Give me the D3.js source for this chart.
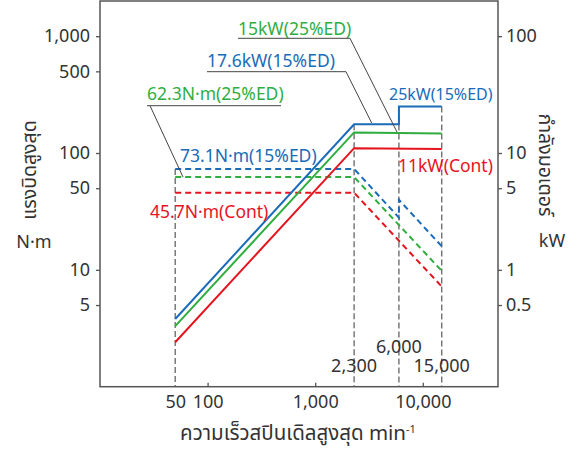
<!DOCTYPE html>
<html>
<head>
<meta charset="utf-8">
<script src="https://cdn.jsdelivr.net/npm/d3@7"></script>
<style>
  body { margin: 0; background: #fff; }
  svg text { font-family: "Noto Sans Thai", "Noto Sans", sans-serif; }
</style>
</head>
<body>
<div id="chart"></div>
<script>
// speeds (min-1) and values
var speeds15 = [50, 2300, 6000, 6000, 15000];
var speeds3 = [50, 2300, 15000];

var torque15ED = [73.1, 73.1, 28.0, 39.8, 15.9];
var torque25ED = [62.3, 62.3, 9.8];
var torqueCont = [45.7, 45.7, 7.2];

var power15ED = [0.38, 17.6, 17.6, 25, 25];
var power25ED = [0.33, 15, 14.7];
var powerCont = [0.24, 11, 10.8];

var xTicks = [50, 100, 1000, 10000];
var xTickLabels = ["50", "100", "1,000", "10,000"];
var yLeftTicks = [5, 10, 50, 100, 500, 1000];
var yLeftLabels = ["5", "10", "50", "100", "500", "1,000"];
var yRightTicks = [0.5, 1, 5, 10, 100];
var yRightLabels = ["0.5", "1", "5", "10", "100"];

var guideSpeeds = [50, 2300, 6000, 15000];
var guideLabels = ["", "2,300", "6,000", "15,000"];

var blue = "#1a6bb8", green = "#2fae3f", red = "#e6141e", frameColor = "#555";

var width = 585,
    height = 450,
    margin = { top: 1, right: 87, bottom: 63.3, left: 100 };

var svg = d3.select("#chart").append("svg")
    .attr("width", width)
    .attr("height", height);

var x = d3.scaleLog().domain([10, 50000]).range([margin.left, width - margin.right]);
var yL = d3.scaleLog().domain([1, 2000]).range([height - margin.bottom, margin.top]);
var yR = d3.scaleLog().domain([0.1, 200]).range([height - margin.bottom, margin.top]);

// series: dashed torque on left axis, solid power on right axis
var series = [
    { sp: speeds3, v: torqueCont, y: yL, color: red, dash: "6,4" },
    { sp: speeds3, v: torque25ED, y: yL, color: green, dash: "6,4" },
    { sp: speeds15, v: torque15ED, y: yL, color: blue, dash: "6,4" },
    { sp: speeds3, v: powerCont, y: yR, color: red, dash: null },
    { sp: speeds3, v: power25ED, y: yR, color: green, dash: null },
    { sp: speeds15, v: power15ED, y: yR, color: blue, dash: null }
];

// vertical guides go up to the highest mark at that speed
guideSpeeds.forEach(function (s, i) {
    var top = height - margin.bottom;
    series.forEach(function (se) {
        se.sp.forEach(function (p, j) {
            if (p === s) top = Math.min(top, se.y(se.v[j]));
        });
    });
    svg.append("line")
        .attr("x1", x(s)).attr("x2", x(s))
        .attr("y1", top).attr("y2", height - margin.bottom)
        .attr("stroke", "#666")
        .attr("stroke-width", 1.3)
        .attr("stroke-dasharray", "6,3");
    if (guideLabels[i]) {
        svg.append("text")
            .attr("x", x(s))
            .attr("y", s === 6000 ? 352.7 : 371.7)
            .attr("text-anchor", "middle")
            .attr("font-size", 18)
            .attr("fill", "#333")
            .style("font-family", '"Noto Sans", sans-serif')
            .text(guideLabels[i]);
    }
});

var line = d3.line();
series.forEach(function (se) {
    svg.append("path")
        .attr("d", line(se.sp.map(function (s, j) { return [x(s), se.y(se.v[j])]; })))
        .attr("fill", "none")
        .attr("stroke", se.color)
        .attr("stroke-width", 2)
        .attr("stroke-dasharray", se.dash);
});

// frame
svg.append("rect")
    .attr("x", margin.left).attr("y", margin.top)
    .attr("width", width - margin.left - margin.right)
    .attr("height", height - margin.top - margin.bottom)
    .attr("fill", "none")
    .attr("stroke", frameColor)
    .attr("stroke-width", 1.5);

// axes
var xAxis = svg.append("g")
    .attr("transform", "translate(0," + (height - margin.bottom) + ")")
    .call(d3.axisBottom(x).tickValues(xTicks).tickSize(-4).tickPadding(9)
        .tickFormat(function (d, i) { return xTickLabels[i]; }));
xAxis.selectAll(".tick line").filter(function (d) { return d === 50; }).remove();

var leftAxis = svg.append("g")
    .attr("transform", "translate(" + margin.left + ",0)")
    .call(d3.axisLeft(yL).tickValues(yLeftTicks).tickSize(4).tickPadding(6)
        .tickFormat(function (d, i) { return yLeftLabels[i]; }));

var rightAxis = svg.append("g")
    .attr("transform", "translate(" + (width - margin.right) + ",0)")
    .call(d3.axisRight(yR).tickValues(yRightTicks).tickSize(4).tickPadding(4)
        .tickFormat(function (d, i) { return yRightLabels[i]; }));

[xAxis, leftAxis, rightAxis].forEach(function (a) {
    a.select(".domain").remove();
    a.selectAll(".tick line").attr("stroke", frameColor).attr("stroke-width", 1.3);
    a.selectAll(".tick text")
        .attr("font-size", 18)
        .attr("fill", "#333")
        .style("font-family", '"Noto Sans", sans-serif');
});

// annotations
var notes = [
    { t: "15kW(25%ED)", x: 238, y: 35, c: green, ul: [238, 350, 38.3], lead: [397, 132] },
    { t: "17.6kW(15%ED)", x: 207, y: 66.7, c: blue, ul: [207, 346, 71.7], lead: [371.7, 123] },
    { t: "25kW(15%ED)", x: 389, y: 100, c: blue, size: 16 },
    { t: "62.3N·m(25%ED)", x: 147, y: 100, c: green, ul: [147, 281, 105.7], lead: [183, 177], leadFromLeft: true },
    { t: "73.1N·m(15%ED)", x: 180, y: 161.7, c: blue },
    { t: "11kW(Cont)", x: 398, y: 171.7, c: red },
    { t: "45.7N·m(Cont)", x: 150, y: 218, c: red }
];

notes.forEach(function (n) {
    svg.append("text")
        .attr("x", n.x).attr("y", n.y)
        .attr("font-size", n.size || 17.5)
        .attr("fill", n.c)
        .style("font-family", '"Noto Sans", sans-serif')
        .text(n.t);
    if (n.ul) {
        svg.append("line")
            .attr("x1", n.ul[0]).attr("x2", n.ul[1])
            .attr("y1", n.ul[2]).attr("y2", n.ul[2])
            .attr("stroke", "#444").attr("stroke-width", 1);
        var sx = n.leadFromLeft ? n.ul[0] + 3 : n.ul[1];
        svg.append("line")
            .attr("x1", sx).attr("y1", n.ul[2])
            .attr("x2", n.lead[0]).attr("y2", n.lead[1])
            .attr("stroke", "#444").attr("stroke-width", 1);
    }
});

// axis titles
svg.append("text")
    .attr("transform", "translate(36,170) rotate(-90)")
    .attr("text-anchor", "middle")
    .attr("font-size", 19.5)
    .attr("fill", "#333")
    .text("แรงบิดสูงสุด");
svg.append("text")
    .attr("x", 34).attr("y", 248)
    .attr("text-anchor", "middle")
    .attr("font-size", 18)
    .attr("fill", "#333")
    .style("font-family", '"Noto Sans", sans-serif')
    .text("N·m");

svg.append("text")
    .attr("transform", "translate(539,165) rotate(90)")
    .attr("text-anchor", "middle")
    .attr("font-size", 19.5)
    .attr("fill", "#333")
    .text("กำลังมอเตอร์");
svg.append("text")
    .attr("x", 552).attr("y", 247)
    .attr("text-anchor", "middle")
    .attr("font-size", 18)
    .attr("fill", "#333")
    .style("font-family", '"Noto Sans", sans-serif')
    .text("kW");

var xt = svg.append("text")
    .attr("x", 298).attr("y", 440)
    .attr("text-anchor", "middle")
    .attr("font-size", 20.5)
    .attr("fill", "#333");
xt.append("tspan").text("ความเร็วสปินเดิลสูงสุด min");
xt.append("tspan").attr("font-size", 11).attr("dy", -7).text("-1");
</script>
</body>
</html>
